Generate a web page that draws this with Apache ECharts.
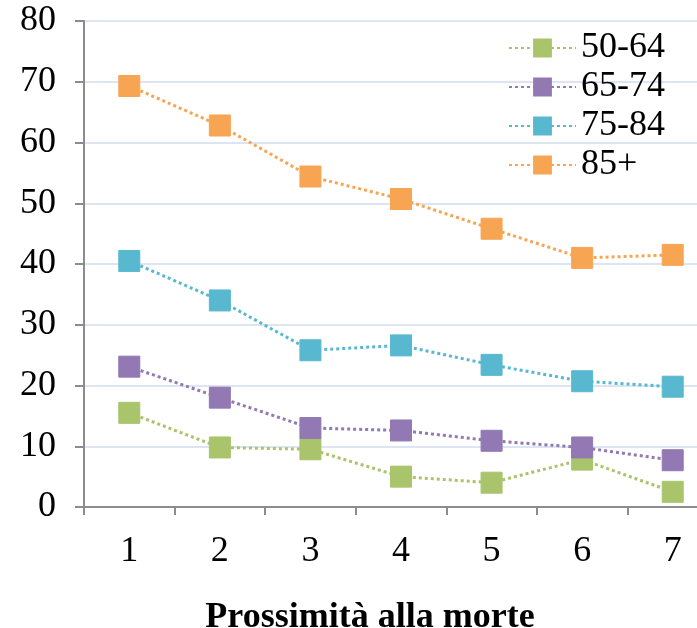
<!DOCTYPE html>
<html>
<head>
<meta charset="utf-8">
<script src="https://cdn.jsdelivr.net/npm/echarts@6/dist/echarts.min.js"></script>
<style>
  html, body { margin: 0; padding: 0; background: #fff; }
  #chart { width: 697px; height: 628px; }
</style>
</head>
<body>
<div id="chart"></div>
<script>
// Proximity-to-death categories and values per age group
const categories = ['1', '2', '3', '4', '5', '6', '7'];
const seriesNames = ['50-64', '65-74', '75-84', '85+'];
const values5064 = [15.5, 9.8, 9.5, 5.0, 4.0, 7.8, 2.5];
const values6574 = [23.1, 18.0, 13.0, 12.6, 10.9, 9.8, 7.7];
const values7584 = [40.5, 34.0, 25.8, 26.6, 23.4, 20.7, 19.8];
const values85 = [69.3, 62.8, 54.4, 50.7, 45.8, 41.0, 41.5];
const colors = ['#a9c46a', '#9279b3', '#58b8d0', '#f8a553'];

const font = '"Liberation Serif", "DejaVu Serif", serif';
const allValues = [values5064, values6574, values7584, values85];

const chart = echarts.init(document.getElementById('chart'));
chart.setOption({
  animation: false,
  backgroundColor: '#ffffff',
  grid: { left: 84, top: 21, bottom: 121, right: -21, containLabel: false, outerBoundsMode: 'none' },
  legend: {
    orient: 'vertical',
    left: 503,
    top: 25,
    itemWidth: 67,
    itemHeight: 21,
    itemGap: 3,
    data: seriesNames,
    textStyle: { fontFamily: font, fontSize: 36, color: '#000', lineHeight: 36, padding: [0, 0, 0, 0] }
  },
  xAxis: {
    type: 'category',
    data: categories,
    boundaryGap: true,
    name: 'Prossimità alla morte',
    nameLocation: 'middle',
    nameGap: 93,
    nameTextStyle: { fontFamily: font, fontSize: 36, fontWeight: 'bold', color: '#000', padding: [0, 62, 0, 0] },
    axisLine: { lineStyle: { color: '#8c8c8c', width: 2 } },
    axisTick: { show: true, length: 8, lineStyle: { color: '#8c8c8c', width: 2 } },
    axisLabel: { fontFamily: font, fontSize: 36, color: '#000', margin: 27 },
    splitLine: { show: false }
  },
  yAxis: {
    type: 'value',
    min: 0,
    max: 80,
    interval: 10,
    axisLine: { show: true, lineStyle: { color: '#8c8c8c', width: 2 } },
    axisTick: { show: true, length: 9, lineStyle: { color: '#8c8c8c', width: 2 } },
    axisLabel: { fontFamily: font, fontSize: 36, color: '#000', margin: 28 },
    splitLine: { show: true, lineStyle: { color: '#dde5f2', width: 2 } }
  },
  series: seriesNames.map((name, i) => ({
    name: name,
    type: 'line',
    data: allValues[i],
    symbol: 'rect',
    symbolSize: 21,
    color: colors[i],
    itemStyle: { color: colors[i], borderColor: colors[i], borderWidth: 1 },
    lineStyle: { color: colors[i], width: 3, type: [3, 3] },
    z: 2 + i
  }))
});
</script>
</body>
</html>
